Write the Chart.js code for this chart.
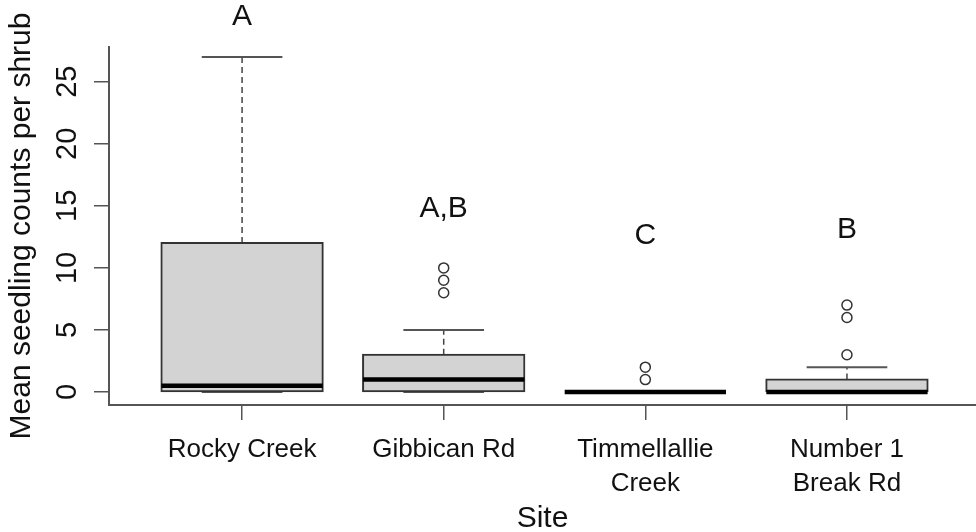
<!DOCTYPE html>
<html>
<head>
<meta charset="utf-8">
<script src="https://cdn.jsdelivr.net/npm/chart.js@4.4.1/dist/chart.umd.min.js"></script>
<style>
	html, body { margin: 0; padding: 0; background: #fff; }
	#wrap { width: 976px; height: 532px; }
</style>
</head>
<body>
<div id="wrap"><canvas id="seedling-chart" width="976" height="532"></canvas></div>
<script>
// boxplot summary per site
const sites = ['Rocky Creek', 'Gibbican Rd', ['Timmellallie', 'Creek'], ['Number 1', 'Break Rd']];
const lowerWhisker = [0, 0, 0, 0];
const lowerQuartile = [0, 0, 0, 0];
const medians = [0.5, 1, 0, 0];
const upperQuartile = [12, 3, 0, 1];
const upperWhisker = [27, 5, 0, 2];
const outliers = [[], [8, 9, 10], [1, 2], [3, 6, 7]];

// significance letters and the height they sit at
const letters = ['A', 'A,B', 'C', 'B'];
const letterHeights = [30.2, 14.8, 12.6, 13.1];

const yTicks = [0, 5, 10, 15, 20, 25];
const yMin = -1.05;
const yMax = 27.8;
const xMin = 0.34;
const xMax = 4.64;

const axisColor = '#555';
const textColor = '#111';
const fontFamily = "'Liberation Sans', Arial, sans-serif";

Chart.defaults.font.family = fontFamily;
Chart.defaults.color = textColor;

const boxData = sites.map((s, i) => ({ x: i + 1, y: [lowerQuartile[i], upperQuartile[i]] }));
const outlierData = [];
outliers.forEach((vals, i) => {
	vals.forEach((v) => outlierData.push({ x: i + 1, y: v }));
});

// whiskers, staples, medians and letters
const boxDetails = {
	id: 'boxDetails',
	beforeDatasetsDraw(chart) {
		const { ctx, scales: { x, y } } = chart;
		ctx.save();
		sites.forEach((s, i) => {
			const pos = i + 1;
			const cx = x.getPixelForValue(pos);

			ctx.strokeStyle = '#444';
			ctx.lineWidth = 1.5;
			ctx.setLineDash([6, 4]);
			ctx.beginPath();
			ctx.moveTo(cx, y.getPixelForValue(upperQuartile[i]));
			ctx.lineTo(cx, y.getPixelForValue(upperWhisker[i]));
			ctx.moveTo(cx, y.getPixelForValue(lowerQuartile[i]));
			ctx.lineTo(cx, y.getPixelForValue(lowerWhisker[i]));
			ctx.stroke();

			ctx.setLineDash([]);
			ctx.strokeStyle = axisColor;
			ctx.lineWidth = 2;
			ctx.beginPath();
			[upperWhisker[i], lowerWhisker[i]].forEach((v) => {
				const py = y.getPixelForValue(v);
				ctx.moveTo(x.getPixelForValue(pos - 0.2), py);
				ctx.lineTo(x.getPixelForValue(pos + 0.2), py);
			});
			ctx.stroke();
		});
		ctx.restore();
	},
	afterDatasetsDraw(chart) {
		const { ctx, scales: { x, y } } = chart;
		ctx.save();
		ctx.strokeStyle = '#000';
		ctx.lineWidth = 4.5;
		ctx.lineCap = 'butt';
		medians.forEach((m, i) => {
			const py = y.getPixelForValue(m);
			ctx.beginPath();
			ctx.moveTo(x.getPixelForValue(i + 1 - 0.4), py);
			ctx.lineTo(x.getPixelForValue(i + 1 + 0.4), py);
			ctx.stroke();
		});
		ctx.restore();
	},
	afterDraw(chart) {
		const { ctx, scales: { x, y } } = chart;
		ctx.save();
		ctx.fillStyle = textColor;
		ctx.font = '30px ' + fontFamily;
		ctx.textAlign = 'center';
		ctx.textBaseline = 'middle';
		letters.forEach((t, i) => {
			ctx.fillText(t, x.getPixelForValue(i + 1), y.getPixelForValue(letterHeights[i]));
		});
		ctx.restore();
	},
};

const config = {
	type: 'bar',
	data: {
		datasets: [
			{
				label: 'box',
				data: boxData,
				backgroundColor: '#d3d3d3',
				borderColor: '#333',
				borderWidth: 2,
				borderSkipped: false,
				inflateAmount: 1,
				barPercentage: 0.8,
				categoryPercentage: 1,
				order: 2,
			},
			{
				type: 'scatter',
				label: 'outliers',
				data: outlierData,
				pointStyle: 'circle',
				pointRadius: 5,
				pointBorderWidth: 1.5,
				pointBorderColor: '#333',
				pointBackgroundColor: 'rgba(0,0,0,0)',
				order: 1,
			},
		],
	},
	options: {
		responsive: false,
		animation: false,
		layout: { autoPadding: false, padding: { top: 47, right: 0, left: 0, bottom: 0 } },
		plugins: {
			legend: { display: false },
			tooltip: { enabled: false },
		},
		scales: {
			x: {
				type: 'linear',
				min: xMin,
				max: xMax,
				offset: false,
				grid: {
					offset: false,
					drawOnChartArea: false,
					drawTicks: true,
					tickLength: 15,
					color: axisColor,
					lineWidth: 1.5,
				},
				border: { color: axisColor, width: 2 },
				ticks: {
					font: { size: 26, lineHeight: 1.3 },
					color: textColor,
					padding: 13,
					maxRotation: 0,
					autoSkip: false,
					callback: (val) => sites[val - 1],
				},
				afterBuildTicks: (scale) => {
					scale.ticks = sites.map((s, i) => ({ value: i + 1 }));
				},
				afterFit: (scale) => {
					scale.height = 532 - 405;
					scale.paddingLeft = 0;
					scale.paddingRight = 0;
				},
				title: {
					display: true,
					text: 'Site',
					font: { size: 30, lineHeight: 0.9 },
					color: textColor,
					padding: { top: 0, bottom: 0 },
				},
			},
			y: {
				type: 'linear',
				min: yMin,
				max: yMax,
				grid: {
					drawOnChartArea: false,
					drawTicks: true,
					tickLength: 15,
					color: axisColor,
					lineWidth: 1.5,
				},
				border: { color: axisColor, width: 2 },
				ticks: {
					font: { size: 29 },
					color: textColor,
					padding: 9.5,
					minRotation: 90,
					maxRotation: 90,
					crossAlign: 'center',
					autoSkip: false,
					callback: (val) => String(val),
				},
				afterBuildTicks: (scale) => {
					scale.ticks = yTicks.map((v) => ({ value: v }));
				},
				afterFit: (scale) => {
					scale.width = 109;
					scale.paddingTop = 0;
					scale.paddingBottom = 0;
				},
				title: {
					display: true,
					text: 'Mean seedling counts per shrub',
					font: { size: 30, lineHeight: 1.2 },
					color: textColor,
					padding: { top: 4, bottom: 0 },
				},
			},
		},
	},
	plugins: [boxDetails],
};

const chart = new Chart(document.getElementById('seedling-chart'), config);
</script>
</body>
</html>
